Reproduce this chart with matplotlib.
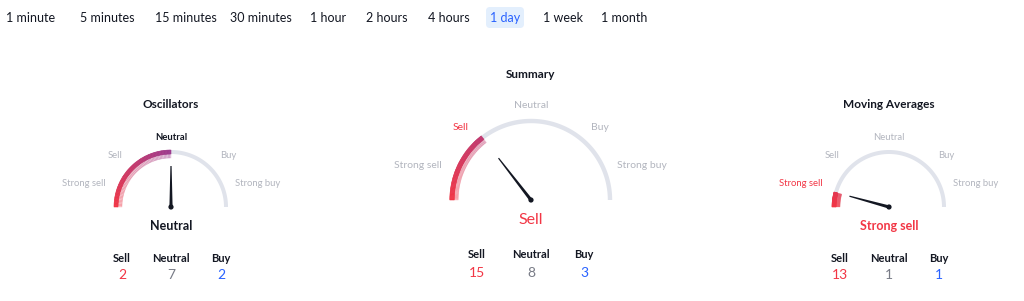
import matplotlib.pyplot as plt
import numpy as np
from matplotlib.patches import Polygon, Circle, FancyBboxPatch
from matplotlib.collections import PolyCollection
from matplotlib.colors import LinearSegmentedColormap

plt.rcParams['font.family'] = ['Lato', 'DejaVu Sans']

# tabs
tab_labels = ["1 minute", "5 minutes", "15 minutes", "30 minutes", "1 hour",
              "2 hours", "4 hours", "1 day", "1 week", "1 month"]
tab_x = [31, 107, 186, 261, 328, 387, 449, 505, 563, 624]
active_tab = "1 day"

# gauges
gauge_titles = ["Oscillators", "Summary", "Moving Averages"]
gauge_ratings = [0.0, -0.42, -0.83]   # -1 strong sell ... 1 strong buy
gauge_results = ["Neutral", "Sell", "Strong sell"]
sell_counts = [2, 15, 13]
neutral_counts = [7, 8, 1]
buy_counts = [2, 3, 1]
zone_labels = ["Strong sell", "Sell", "Neutral", "Buy", "Strong buy"]

RED = "#f23645"
BLUE = "#2962ff"
DARK = "#131722"
GREY = "#b2b5be"
NUMGREY = "#787b86"
TRACK = "#e0e3eb"

cmap = LinearSegmentedColormap.from_list("rating", [RED, "#9c3a8e", BLUE])

fig = plt.figure(figsize=(10.24, 3.01), dpi=100)
ax = fig.add_axes([0, 0, 1, 1])
ax.set_xlim(0, 1024)
ax.set_ylim(301, 0)
ax.axis("off")

# tab bar
for lab, x in zip(tab_labels, tab_x):
    if lab == active_tab:
        ax.add_patch(FancyBboxPatch((x - 19, 7), 38, 21,
                                    boxstyle="round,pad=0,rounding_size=4",
                                    fc="#e3effd", ec="none"))
        ax.text(x, 17.5, lab, color=BLUE, fontsize=9, ha="center", va="center")
    else:
        ax.text(x, 17.5, lab, color=DARK, fontsize=9, ha="center", va="center")

# layout of each gauge (pixel space)
layout = [
    dict(cx=171, cy=207, r=55, w=4.0, title_y=105, fs=6.8, res_fs=9, res_bold=True,
         lab_dy=[-23, -51, -70, -51, -23], lab_dx=[-87, -56, 0, 57, 87],
         cnt_dx=[-49, 0, 50], cnt_y=258, num_y=275, res_y=226, needle=41),
    dict(cx=531, cy=200, r=79, w=4.4, title_y=74, fs=7.5, res_fs=11.5, res_bold=False,
         lab_dy=[-35, -73, -94, -73, -35], lab_dx=[-113, -70, 0, 69, 111],
         cnt_dx=[-54, 0, 53], cnt_y=255, num_y=273, res_y=220, needle=53),
    dict(cx=889, cy=207, r=55, w=4.0, title_y=105, fs=6.8, res_fs=9, res_bold=True,
         lab_dy=[-23, -51, -70, -51, -23], lab_dx=[-88, -57, 0, 57, 87],
         cnt_dx=[-49, 0, 50], cnt_y=258, num_y=275, res_y=226, needle=41),
]


def zone_of(v):
    if v < -0.5:
        return 0
    if v < -0.1:
        return 1
    if v <= 0.1:
        return 2
    if v <= 0.5:
        return 3
    return 4


def annulus(cx, cy, r_in, r_out, a0, a1, n=8):
    t = np.linspace(a0, a1, n)
    outer = np.column_stack([cx + r_out * np.cos(t), cy - r_out * np.sin(t)])
    inner = np.column_stack([cx + r_in * np.cos(t[::-1]), cy - r_in * np.sin(t[::-1])])
    return np.vstack([outer, inner])


for i, g in enumerate(layout):
    cx, cy, r, w = g["cx"], g["cy"], g["r"], g["w"]
    v = gauge_ratings[i]
    ang = np.deg2rad(90 - v * 90)
    # grey track
    ax.add_patch(Polygon(annulus(cx, cy, r - w / 2, r + w / 2, 0, np.pi, 200),
                         closed=True, fc=TRACK, ec="none", zorder=1))
    # filled part with gradient, plus pale inner band
    ts = np.linspace(np.pi, ang, 60)
    polys, cols, pale = [], [], []
    for a0, a1 in zip(ts[:-1], ts[1:]):
        val = 1 - (a0 + a1) / 2 / (np.pi / 2)
        cols.append(cmap((val + 1) / 2))
        polys.append(annulus(cx, cy, r - w / 2, r + w / 2, a0, a1))
        pale.append(annulus(cx, cy, r - w / 2 - 4.0, r - w / 2 + 0.2, a0, a1))
    ax.add_collection(PolyCollection(pale, facecolors=cols, edgecolors=cols,
                                     linewidths=0.4, alpha=0.25, zorder=2))
    ax.add_collection(PolyCollection(polys, facecolors=cols, edgecolors=cols,
                                     linewidths=0.4, zorder=3))
    # needle
    L = g["needle"]
    ux, uy = np.cos(ang), -np.sin(ang)
    px, py = -uy, ux
    wb, wt = 1.6, 0.6
    needle = Polygon([(cx + px * wb, cy + py * wb),
                      (cx + ux * L + px * wt, cy + uy * L + py * wt),
                      (cx + ux * L - px * wt, cy + uy * L - py * wt),
                      (cx - px * wb, cy - py * wb)],
                     closed=True, fc=DARK, ec="none", zorder=5)
    ax.add_patch(needle)
    ax.add_patch(Circle((cx, cy), 2.6, fc=DARK, ec="none", zorder=6))

    # title
    ax.text(cx, g["title_y"], gauge_titles[i], fontsize=8.5, fontweight="bold",
            color=DARK, ha="center", va="center")
    # zone labels
    z = zone_of(v)
    for k, lab in enumerate(zone_labels):
        col = GREY
        weight = "normal"
        if k == z:
            col = RED if k < 2 else (BLUE if k > 2 else DARK)
            weight = "bold" if k == 2 else "normal"
        ax.text(cx + g["lab_dx"][k], cy + g["lab_dy"][k], lab, fontsize=g["fs"],
                color=col, fontweight=weight, ha="center", va="center")
    # result
    res = gauge_results[i]
    rcol = RED if "ell" in res else (BLUE if "uy" in res else DARK)
    ax.text(cx, g["res_y"], res, fontsize=g["res_fs"], color=rcol,
            fontweight="bold" if g["res_bold"] else "normal",
            ha="center", va="center")
    # counts
    heads = ["Sell", "Neutral", "Buy"]
    nums = [sell_counts[i], neutral_counts[i], buy_counts[i]]
    ncols = [RED, NUMGREY, BLUE]
    for k in range(3):
        ax.text(cx + g["cnt_dx"][k], g["cnt_y"], heads[k], fontsize=8,
                fontweight="bold", color=DARK, ha="center", va="center")
        ax.text(cx + g["cnt_dx"][k], g["num_y"], str(nums[k]), fontsize=10,
                color=ncols[k], ha="center", va="center")

fig.savefig("out.png", dpi=100, facecolor="white")
